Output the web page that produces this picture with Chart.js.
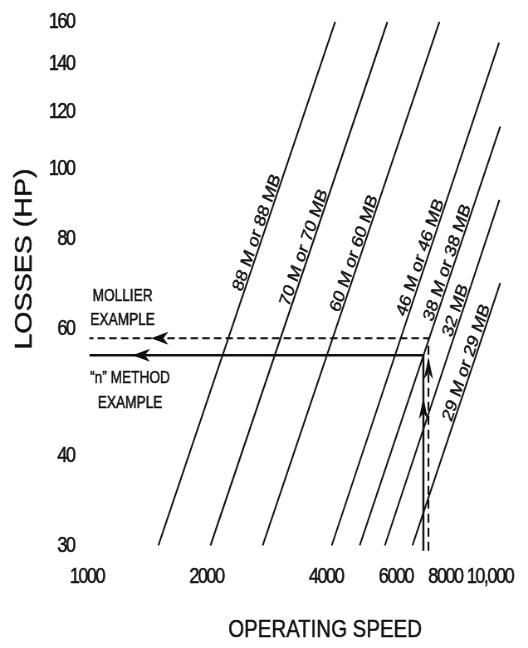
<!DOCTYPE html>
<html>
<head>
<meta charset="utf-8">
<script src="https://cdn.jsdelivr.net/npm/chart.js@4.4.1/dist/chart.umd.min.js"></script>
<style>
  html, body { margin: 0; padding: 0; background: #fff; }
</style>
</head>
<body>
<!-- the drawing surface is laid out wider than it is shown, which gives the condensed lettering -->
<canvas id="chart" width="636" height="648" style="display:block;width:528px;height:648px;"></canvas>
<script>
// ---- axis ticks ----
const speedTicks = [1000, 2000, 4000, 6000, 8000, 10000];
const speedTickLabels = ['1000', '2000', '4000', '6000', '8000', '10,000'];
const lossTicks = [30, 40, 60, 80, 100, 120, 140, 160];

// ---- loss curves, one straight line per size on log-log axes ----
const curveNames      = ['88 M or 88 MB', '70 M or 70 MB', '60 M or 60 MB', '46 M or 46 MB', '38 M or 38 MB', '32 MB', '29 M or 29 MB'];
const curveStartSpeed = [1514, 2048, 2773, 4137, 4867, 5630, 6609];
const curveStartLoss  = [30, 30, 30, 30, 30, 30, 30];
const curveEndSpeed   = [4220, 5713, 7726, 10920, 10990, 10940, 10990];
const curveEndLoss    = [160, 160, 160, 149.8, 114.5, 90.6, 69.4];

// ---- worked examples: up from the speed to the 38 M curve, then across to the loss ----
const mollierSpeed = [7250, 7250, 1015];
const mollierLoss  = [29.5, 58.2, 58.2];
const nMethodSpeed = [7040, 7040, 1015];
const nMethodLoss  = [29.5, 55.1, 55.1];

// where along each curve its name sits (loss level) and where the arrowheads point from
const curveLabelLoss = [80.8, 77.0, 75.6, 74.6, 73.4, 63.0, 53.3];
const arrowAt = {
  mollier: { acrossSpeed: 1450, upLoss: 54.8 },
  nMethod: { acrossSpeed: 1303, upLoss: 48.2 }
};

const INK = '#111';
const SANS = "'Liberation Sans', Arial, Helvetica, sans-serif";
const TICK_FONT = { family: SANS, size: 22 };
const TICK_TRACKING = '-1.9px';

// four-digit labels stay centred on their tick; the wider last label grows to the right
const measureCtx = document.createElement('canvas').getContext('2d');
measureCtx.font = TICK_FONT.size + 'px ' + TICK_FONT.family;
measureCtx.letterSpacing = TICK_TRACKING;
const fourDigitHalf = measureCtx.measureText('0000').width / 2;

function drawArrowhead(ctx, tx, ty, dx, dy, len, half) {
  const px = -dy, py = dx;
  const bx = tx - dx * len, by = ty - dy * len;
  const nx = tx - dx * len * 0.72, ny = ty - dy * len * 0.72;
  ctx.beginPath();
  ctx.moveTo(tx, ty);
  ctx.lineTo(bx + px * half, by + py * half);
  ctx.lineTo(nx, ny);
  ctx.lineTo(bx - px * half, by - py * half);
  ctx.closePath();
  ctx.fill();
}

function inkText(ctx, text, x, y) {
  ctx.strokeText(text, x, y);
  ctx.fillText(text, x, y);
}

// tight tracking for the tick numerals only
const tickTracking = {
  id: 'tickTracking',
  beforeDraw(chart) { chart.ctx.letterSpacing = TICK_TRACKING; },
  beforeDatasetsDraw(chart) { chart.ctx.letterSpacing = '0px'; }
};

const decorations = {
  id: 'decorations',
  afterDatasetsDraw(chart) {
    const { ctx, chartArea } = chart;
    const xs = chart.scales.x, ys = chart.scales.y;
    ctx.save();
    ctx.letterSpacing = '0px';
    ctx.fillStyle = INK;
    ctx.strokeStyle = INK;
    ctx.lineWidth = 0.5;

    // curve names, set along each line
    curveNames.forEach((name, i) => {
      const x1 = xs.getPixelForValue(curveStartSpeed[i]);
      const y1 = ys.getPixelForValue(curveStartLoss[i]);
      const x2 = xs.getPixelForValue(curveEndSpeed[i]);
      const y2 = ys.getPixelForValue(curveEndLoss[i]);
      const ly = ys.getPixelForValue(curveLabelLoss[i]);
      const t = (ly - y1) / (y2 - y1);
      const lx = x1 + t * (x2 - x1);
      ctx.save();
      ctx.translate(lx, ly);
      ctx.rotate(Math.atan2(y2 - y1, x2 - x1));
      ctx.font = '19px ' + SANS;
      ctx.textAlign = 'center';
      ctx.textBaseline = 'alphabetic';
      inkText(ctx, name, 0, -2.5);
      ctx.restore();
    });

    // arrowheads on the example paths
    const mY = ys.getPixelForValue(mollierLoss[1]);
    const nY = ys.getPixelForValue(nMethodLoss[1]);
    drawArrowhead(ctx, xs.getPixelForValue(arrowAt.mollier.acrossSpeed), mY, -1, 0, 21, 6.5);
    drawArrowhead(ctx, xs.getPixelForValue(arrowAt.nMethod.acrossSpeed), nY, -1, 0, 21, 6.5);
    drawArrowhead(ctx, xs.getPixelForValue(mollierSpeed[0]), ys.getPixelForValue(arrowAt.mollier.upLoss), 0, -1, 22, 5.5);
    drawArrowhead(ctx, xs.getPixelForValue(nMethodSpeed[0]), ys.getPixelForValue(arrowAt.nMethod.upLoss), 0, -1, 22, 5.5);

    // example captions
    ctx.font = '16.5px ' + SANS;
    ctx.textAlign = 'center';
    ctx.textBaseline = 'middle';
    const upperX = chartArea.left + 43, lowerX = chartArea.left + 52;
    inkText(ctx, 'MOLLIER', upperX, mY - 42);
    inkText(ctx, 'EXAMPLE', upperX, mY - 18);
    inkText(ctx, '\u201Cn\u201D METHOD', lowerX, nY + 23.5);
    inkText(ctx, 'EXAMPLE', lowerX, nY + 48);

    // axis titles
    ctx.font = '24.6px ' + SANS;
    inkText(ctx, 'OPERATING SPEED', 391.6, 630.5);
    ctx.save();
    ctx.translate(30, 259);
    ctx.rotate(-Math.PI / 2);
    ctx.font = '28.6px ' + SANS;
    inkText(ctx, 'LOSSES (HP)', 0, 0);
    ctx.restore();

    ctx.restore();
  }
};

const curveDatasets = curveNames.map((name, i) => ({
  label: name,
  data: [
    { x: curveStartSpeed[i], y: curveStartLoss[i] },
    { x: curveEndSpeed[i], y: curveEndLoss[i] }
  ],
  borderColor: INK,
  borderWidth: 2,
  pointRadius: 0,
  showLine: true,
  fill: false,
  tension: 0
}));

const mollierDataset = {
  label: 'Mollier example',
  data: mollierSpeed.map((s, i) => ({ x: s, y: mollierLoss[i] })),
  borderColor: INK,
  borderWidth: 2.1,
  borderDash: [9, 5],
  borderJoinStyle: 'miter',
  pointRadius: 0,
  showLine: true,
  fill: false,
  tension: 0
};

const nMethodDataset = {
  label: '"n" method example',
  data: nMethodSpeed.map((s, i) => ({ x: s, y: nMethodLoss[i] })),
  borderColor: INK,
  borderWidth: 2.5,
  borderJoinStyle: 'miter',
  pointRadius: 0,
  showLine: true,
  fill: false,
  tension: 0
};

new Chart(document.getElementById('chart'), {
  type: 'scatter',
  data: { datasets: [...curveDatasets, mollierDataset, nMethodDataset] },
  options: {
    responsive: false,
    animation: false,
    events: [],
    layout: { padding: { top: 6.74, right: 24.1, bottom: 0, left: 0 } },
    plugins: { legend: { display: false }, tooltip: { enabled: false } },
    scales: {
      x: {
        type: 'logarithmic',
        min: 1000,
        max: 11500,
        grid: { display: false, drawTicks: false },
        border: { display: false },
        afterBuildTicks: s => { s.ticks = speedTicks.map(v => ({ value: v })); },
        afterFit: s => { s.height = 91.9; s.paddingLeft = 0; s.paddingRight = 0; },
        ticks: {
          autoSkip: false,
          minRotation: 0,
          maxRotation: 0,
          align: 'start',
          labelOffset: -fourDigitHalf,
          padding: 7.7,
          color: INK,
          textStrokeColor: INK,
          textStrokeWidth: 0.5,
          font: TICK_FONT,
          callback: (v, i) => speedTickLabels[i]
        }
      },
      y: {
        type: 'logarithmic',
        min: 29,
        max: 168,
        grid: { display: false, drawTicks: false },
        border: { display: false },
        afterBuildTicks: s => { s.ticks = lossTicks.map(v => ({ value: v })); },
        afterFit: s => { s.width = 104.6; s.paddingTop = 0; s.paddingBottom = 0; },
        ticks: {
          autoSkip: false,
          padding: 14.9,
          color: INK,
          textStrokeColor: INK,
          textStrokeWidth: 0.5,
          font: TICK_FONT,
          callback: v => String(v)
        }
      }
    }
  },
  plugins: [tickTracking, decorations]
});
</script>
</body>
</html>
